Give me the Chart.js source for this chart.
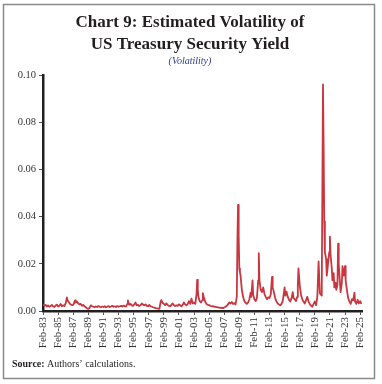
<!DOCTYPE html>
<html>
<head>
<meta charset="utf-8">
<script src="https://cdn.jsdelivr.net/npm/chart.js@4.4.1/dist/chart.umd.min.js"></script>
<style>
html,body{margin:0;padding:0;background:#fff;}
#wrap{position:relative;width:382px;height:384px;}
canvas{display:block;}
</style>
</head>
<body>
<div id="wrap"><canvas id="c" width="382" height="384"></canvas></div>
<script>
// ---- Data ----
const titleLines = ['Chart 9: Estimated Volatility of', 'US Treasury Security Yield'];
const subtitleText = '(Volatility)';
const sourceLabel = 'Source:';
const sourceText = ' Authors\u2019 calculations.';

const tickLabels = ['Feb-83','Feb-85','Feb-87','Feb-89','Feb-91','Feb-93','Feb-95','Feb-97','Feb-99','Feb-01','Feb-03',
                    'Feb-05','Feb-07','Feb-09','Feb-11','Feb-13','Feb-15','Feb-17','Feb-19','Feb-21','Feb-23','Feb-25'];
const yTicks = [0.00, 0.02, 0.04, 0.06, 0.08, 0.10];

const dates = [
'1983-02','1983-04','1983-06','1983-08','1983-10','1983-12',
'1984-02','1984-04','1984-06','1984-08','1984-10','1984-12',
'1985-02','1985-04','1985-06','1985-08','1985-10','1985-12',
'1986-02','1986-04','1986-05','1986-07','1986-09','1986-11',
'1987-01','1987-03','1987-05','1987-06','1987-08','1987-10','1987-12',
'1988-02','1988-04','1988-06','1988-08','1988-10','1988-12',
'1989-02','1989-04','1989-06','1989-08','1989-10','1989-12',
'1990-02','1990-04','1990-06','1990-08','1990-10','1990-12',
'1991-02','1991-04','1991-06','1991-08','1991-10','1991-12',
'1992-02','1992-04','1992-06','1992-08','1992-10','1992-12',
'1993-02','1993-04','1993-06','1993-08','1993-10','1993-12',
'1994-02','1994-04','1994-05','1994-07','1994-09','1994-11',
'1995-01','1995-03','1995-05','1995-07','1995-09','1995-11',
'1996-01','1996-03','1996-05','1996-07','1996-09','1996-11',
'1997-01','1997-03','1997-05','1997-07','1997-09','1997-11',
'1998-01','1998-03','1998-05','1998-07','1998-09','1998-10','1998-12',
'1999-02','1999-04','1999-06','1999-08','1999-10','1999-12',
'2000-02','2000-04','2000-06','2000-08','2000-10','2000-12',
'2001-02','2001-04','2001-06','2001-08','2001-10','2001-12',
'2002-02','2002-04','2002-06','2002-08','2002-10','2002-12',
'2003-02','2003-04','2003-06','2003-07','2003-08','2003-09','2003-11',
'2004-01','2004-03','2004-04','2004-06','2004-08','2004-10','2004-12',
'2005-02','2005-04','2005-06','2005-08','2005-10','2005-12',
'2006-02','2006-04','2006-06','2006-08','2006-10','2006-12',
'2007-02','2007-04','2007-06','2007-08','2007-10','2007-12',
'2008-02','2008-04','2008-06','2008-08','2008-10','2008-11','2008-12',
'2009-01','2009-02','2009-03','2009-04','2009-06','2009-08','2009-10','2009-12',
'2010-02','2010-04','2010-06','2010-08','2010-09','2010-11','2010-12',
'2011-02','2011-04','2011-06','2011-08','2011-09','2011-10','2011-12',
'2012-02','2012-04','2012-06','2012-08','2012-10','2012-12',
'2013-02','2013-04','2013-06','2013-07','2013-09','2013-11',
'2014-01','2014-03','2014-05','2014-07','2014-09','2014-11','2014-12',
'2015-02','2015-03','2015-05','2015-07','2015-09','2015-11',
'2016-01','2016-03','2016-04','2016-06','2016-08','2016-10','2016-11','2016-12',
'2017-02','2017-04','2017-06','2017-08','2017-10','2017-12',
'2018-02','2018-04','2018-06','2018-08','2018-10','2018-12',
'2019-02','2019-04','2019-06','2019-08','2019-10','2020-01',
'2020-03','2020-04','2020-05','2020-06','2020-08','2020-09','2020-11',
'2021-01','2021-02','2021-03','2021-05','2021-06','2021-08','2021-09','2021-11','2021-12',
'2022-02','2022-03','2022-04','2022-06','2022-07','2022-09','2022-10','2022-12',
'2023-02','2023-03','2023-05','2023-07','2023-09','2023-11',
'2024-01','2024-03','2024-05','2024-06','2024-08','2024-10','2024-12',
'2025-02','2025-04'
];
const volatility = [
0.0030,0.0022,0.0026,0.0019,0.0024,0.0018,
0.0021,0.0026,0.0020,0.0017,0.0023,0.0027,
0.0019,0.0022,0.0030,0.0020,0.0024,0.0021,
0.0032,0.0058,0.0045,0.0038,0.0030,0.0026,
0.0025,0.0030,0.0045,0.0036,0.0040,0.0032,0.0028,
0.0030,0.0022,0.0026,0.0020,0.0016,0.0011,
0.0009,0.0013,0.0024,0.0020,0.0018,0.0016,
0.0019,0.0017,0.0021,0.0018,0.0016,0.0019,
0.0017,0.0020,0.0016,0.0018,0.0021,0.0017,
0.0019,0.0022,0.0018,0.0020,0.0017,0.0021,
0.0018,0.0020,0.0022,0.0019,0.0023,0.0020,
0.0020,0.0030,0.0045,0.0026,0.0030,0.0024,
0.0022,0.0028,0.0036,0.0024,0.0026,0.0021,
0.0024,0.0032,0.0027,0.0024,0.0028,0.0022,
0.0020,0.0026,0.0020,0.0018,0.0016,0.0014,
0.0012,0.0011,0.0010,0.0009,0.0040,0.0046,0.0035,
0.0030,0.0025,0.0032,0.0026,0.0022,0.0020,
0.0026,0.0032,0.0025,0.0021,0.0024,0.0022,
0.0028,0.0024,0.0020,0.0026,0.0036,0.0028,
0.0024,0.0030,0.0042,0.0030,0.0052,0.0032,
0.0036,0.0030,0.0070,0.0132,0.0090,0.0060,0.0042,
0.0036,0.0045,0.0076,0.0055,0.0038,0.0030,0.0026,
0.0025,0.0022,0.0020,0.0021,0.0018,0.0017,
0.0016,0.0015,0.0014,0.0013,0.0014,0.0012,
0.0015,0.0018,0.0022,0.0028,0.0036,0.0032,
0.0038,0.0030,0.0033,0.0028,0.0060,0.0300,0.0450,
0.0320,0.0180,0.0165,0.0150,0.0090,0.0060,0.0042,0.0035,
0.0030,0.0036,0.0050,0.0078,0.0060,0.0130,0.0070,
0.0050,0.0042,0.0055,0.0130,0.0245,0.0130,0.0090,
0.0080,0.0100,0.0072,0.0060,0.0050,0.0058,
0.0055,0.0070,0.0145,0.0100,0.0080,0.0055,
0.0040,0.0032,0.0028,0.0024,0.0030,0.0042,0.0060,
0.0100,0.0065,0.0082,0.0060,0.0048,0.0040,
0.0055,0.0080,0.0055,0.0050,0.0042,0.0060,0.0110,0.0180,
0.0110,0.0070,0.0050,0.0040,0.0032,0.0045,
0.0060,0.0040,0.0030,0.0022,0.0018,0.0030,
0.0040,0.0025,0.0060,0.0210,0.0075,0.0065,
0.0960,0.0700,0.0380,0.0250,0.0220,0.0150,0.0200,
0.0250,0.0315,0.0240,0.0180,0.0130,0.0160,0.0100,0.0120,0.0090,
0.0110,0.0285,0.0200,0.0120,0.0080,0.0120,0.0190,0.0150,
0.0190,0.0130,0.0090,0.0055,0.0040,0.0030,
0.0050,0.0045,0.0078,0.0040,0.0030,0.0048,0.0032,
0.0042,0.0030
];

// months since Feb-1983 (first tick)
function monthIndex(s){ const [y,m] = s.split('-').map(Number); return (y-1983)*12 + (m-2); }
const points = dates.map((d,i)=>({x: monthIndex(d), y: volatility[i]}));

const SERIF = '"Liberation Serif", "DejaVu Serif", serif';

const decor = {
  id: 'decor',
  beforeDraw(chart){
    const ctx = chart.ctx;
    ctx.save();
    ctx.fillStyle = '#fff';
    ctx.fillRect(0,0,chart.width,chart.height);
    ctx.restore();
  },
  afterDraw(chart){
    const ctx = chart.ctx;
    ctx.save();
    // frame
    ctx.strokeStyle = '#8a8a8a';
    ctx.lineWidth = 1.5;
    ctx.strokeRect(3.5, 4.5, 371, 374);
    // title
    ctx.fillStyle = '#231f20';
    ctx.textAlign = 'center';
    ctx.textBaseline = 'alphabetic';
    ctx.font = 'bold 17px ' + SERIF;
    ctx.fillText(titleLines[0], 190, 27);
    ctx.fillText(titleLines[1], 190, 49);
    // subtitle
    ctx.font = 'italic 10px ' + SERIF;
    ctx.fillStyle = '#2e3f8f';
    ctx.fillText(subtitleText, 190, 64);
    // source
    ctx.textAlign = 'left';
    ctx.fillStyle = '#231f20';
    ctx.font = 'bold 10px ' + SERIF;
    ctx.fillText(sourceLabel, 12, 367);
    const w = ctx.measureText(sourceLabel).width;
    ctx.font = '10px ' + SERIF;
    ctx.fillText(sourceText, 12 + w, 367);
    ctx.restore();
  }
};

new Chart(document.getElementById('c'), {
  type: 'line',
  data: {
    datasets: [{
      data: points,
      borderColor: '#c9363f',
      borderWidth: 1.8,
      borderJoinStyle: 'round',
      pointRadius: 0,
      tension: 0,
      fill: false
    }]
  },
  options: {
    responsive: false,
    animation: false,
    parsing: true,
    layout: { padding: { left: 0, right: 20, top: 75, bottom: 0 } },
    plugins: { legend: { display: false }, title: { display: false }, tooltip: { enabled: false } },
    scales: {
      x: {
        type: 'linear',
        min: 0,
        max: 507,
        afterBuildTicks(scale){
          scale.ticks = tickLabels.map((_,i)=>({value: i*24}));
        },
        afterFit(scale){ scale.height = 73; },
        ticks: {
          autoSkip: false,
          minRotation: 90,
          maxRotation: 90,
          padding: 2,
          color: '#333',
          font: { family: SERIF, size: 11 },
          callback: (v)=> tickLabels[Math.round(v/24)]
        },
        grid: { drawOnChartArea: false, drawTicks: true, tickLength: 4, tickColor: '#555', tickWidth: 1 },
        border: { display: true, color: '#231f20', width: 2.5 }
      },
      y: {
        type: 'linear',
        min: 0,
        max: 0.10,
        afterBuildTicks(scale){
          scale.ticks = yTicks.map(v=>({value: v}));
        },
        afterFit(scale){ scale.width = 43; },
        ticks: {
          padding: 3,
          color: '#333',
          font: { family: SERIF, size: 10.5 },
          callback: (v)=> Number(v).toFixed(2)
        },
        grid: { drawOnChartArea: false, drawTicks: true, tickLength: 4, tickColor: '#555', tickWidth: 1 },
        border: { display: true, color: '#231f20', width: 2.5 }
      }
    }
  },
  plugins: [decor]
});
</script>
</body>
</html>
